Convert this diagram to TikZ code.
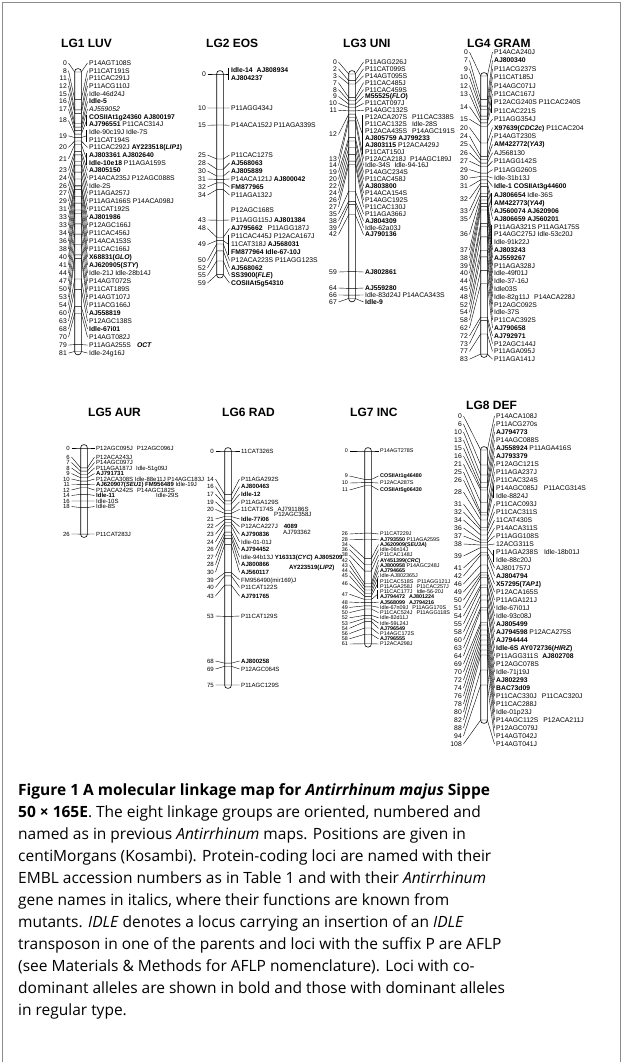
\documentclass[tikz,border=0pt]{standalone}
\usepackage{fontspec}
\setmainfont{Liberation Sans}
\newfontfamily\capfont{Open Sans}
\newcommand\Bf[1]{{\bfseries #1}}
\newcommand\Itl[1]{{\itshape #1}}
\tikzset{
 cn/.style={line width=0.4pt},
 barst/.style={draw, line width=0.6pt, fill=white},
 framest/.style={draw=black!45, line width=0.8pt},
 nm/.style={anchor=base east, inner sep=0pt, font=\fontsize{\gf}{\gf}\selectfont},
 lb/.style={anchor=base west, inner sep=0pt, font=\fontsize{\gf}{\gf}\selectfont},
 ttl/.style={anchor=west, inner sep=0pt, font=\fontsize{12}{12}\selectfont\bfseries},
 captxt/.style={anchor=base west, inner sep=0pt, font=\capfont\fontsize{15.5}{15.5}\selectfont},
}
\newcommand\grp[7]{\def\gy{#1}\def\gk{#2}\def\gnx{#3}\def\gbx{#4}\def\glx{#5}\def\gf{#6}\def\gw{#7}\pgfmathsetmacro\gb{0.36*#6}}
\newcommand\mbar[1]{\draw[barst, rounded corners=2.9pt] (\gbx-\gw,\gy-\gw) rectangle (\gbx+\gw,\gy+\gk*#1+\gw);}
\newcommand\mk[4]{%
 \pgfmathsetmacro\ty{\gy+\gk*(#1)}%
 \draw[cn] (\gnx+1.5,#2) -- (\gbx-\gw,\ty) -- (\gbx+\gw,\ty) -- (\glx-1.5,#2);%
 \node[nm] at (\gnx,#2+\gb) {#3};%
 \node[lb] at (\glx,#2+\gb) {#4};}
\newcommand\mb[4]{%
 \pgfmathsetmacro\ty{\gy+\gk*(#1)}%
 \pgfmathsetmacro\tm{(#2+#3)/2}%
 \draw[cn] (\gnx+1.5,\tm) -- (\gbx-\gw,\ty) -- (\gbx+\gw,\ty) -- (\glx-2.5,\tm);%
 \draw[cn] (\glx-2.5,#2-2) -- (\glx-2.5,#3+2);%
 \node[nm] at (\gnx,\tm+\gb) {#4};}
\newcommand\ml[2]{\node[lb] at (\glx,#1+\gb) {#2};}
\newcommand\mlx[3]{\node[lb] at (\glx+#1,#2+\gb) {#3};}
\begin{document}
\begin{tikzpicture}[x=1pt,y=-1pt]
\useasboundingbox (0,0) rectangle (622,1062);
\draw[framest] (2,2) rectangle (620,1090);
% ---------------- titles
\node[ttl] (t1) at (61,43) {LG1 LUV};
\node[ttl] (t2) at (206,43) {LG2 EOS};
\node[ttl] (t3) at (343,43) {LG3 UNI};
\node[ttl] (t4) at (467,43) {LG4 GRAM};
\node[ttl] (t5) at (88,412) {LG5 AUR};
\node[ttl] (t6) at (222,412) {LG6 RAD};
\node[ttl] (t7) at (350,412) {LG7 INC};
\node[ttl] (t8) at (466,405) {LG8 DEF};
% ---------------- LG1
\grp{72}{3.45}{67}{78}{89}{6.8}{3.3}
\mbar{81}
\mk{0}{63}{0}{P14AGT108S}
\mk{8}{70.7}{8}{P11CAT191S}
\mk{11}{78.3}{11}{P11CAC291J}
\mk{12}{86}{12}{P11ACG110J}
\mk{15}{93.7}{15}{Idle-46d24J}
\mk{16}{101.4}{16}{\Bf{Idle-5}}
\mk{17}{109}{17}{\Itl{AJ559052}}
\mb{18}{116.7}{124.4}{18}
\ml{116.7}{\Bf{COSIIAt1g24360 AJ800197}}
\ml{124.4}{\Bf{AJ796551} P11CAC314J}
\mb{19}{132}{139.7}{19}
\ml{132}{Idle-90c19J Idle-7S}
\ml{139.7}{P11CAT194S}
\mk{20}{147.4}{20}{P11CAC292J \Bf{AY223518(\Itl{LIP1})}}
\mb{21}{155}{162.7}{21}
\ml{155}{\Bf{AJ803361 AJ802640}}
\ml{162.7}{\Bf{Idle-10e18} P11AGA159S}
\mk{23}{170.4}{23}{\Bf{AJ805150}}
\mk{24}{178.1}{24}{P14ACA235J P12AGC088S}
\mk{26}{185.7}{26}{Idle-2S}
\mk{27}{193.4}{27}{P11AGA257J}
\mk{29}{201.1}{29}{P11AGA166S P14ACA098J}
\mk{31}{209.1}{31}{P11CAT192S}
\mk{33}{217.1}{33}{\Bf{AJ801986}}
\mk{33}{225.1}{33}{P12AGC166J}
\mk{34}{233.1}{34}{P11CAC456J}
\mk{36}{241.1}{36}{P14ACA153S}
\mk{38}{249.1}{38}{P11CAC166J}
\mk{40}{257.1}{40}{\Bf{X68831(\Itl{GLO})}}
\mk{41}{265.1}{41}{\Bf{AJ620905(\Itl{STY})}}
\mk{44}{273.1}{44}{Idle-21J Idle-28b14J}
\mk{47}{281.1}{47}{P14AGT072S}
\mk{50}{289.1}{50}{P11CAT189S}
\mk{53}{297.1}{53}{P14AGT107J}
\mk{54}{305.1}{54}{P11ACG166J}
\mk{60}{313.1}{60}{\Bf{AJ558819}}
\mk{63}{321.1}{63}{P12AGC138S}
\mk{68}{329.1}{68}{\Bf{Idle-67i01}}
\mk{70}{337.1}{70}{P14AGT082J}
\mk{79}{345.1}{79}{P11AGA255S\hspace{6pt}\Bf{\Itl{OCT}}}
\mk{81}{353.1}{81}{Idle-24g16J}
% ---------------- LG2
\grp{74}{3.4}{206}{220}{231}{6.8}{3.3}
\mbar{59}
\mb{0}{70}{78}{0}
\ml{70}{\Bf{Idle-14\hspace{4pt}AJ808934}}
\ml{78}{\Bf{AJ804237}}
\mk{10}{108}{10}{P11AGG434J}
\mk{15}{125.3}{15}{P14ACA152J P11AGA339S}
\mk{25}{155}{25}{P11CAC127S}
\mk{28}{163}{28}{\Bf{AJ568063}}
\mk{30}{171}{30}{\Bf{AJ805889}}
\mk{31}{179}{31}{P14ACA121J \Bf{AJ800042}}
\mk{32}{187}{32}{\Bf{FM877965}}
\mk{34}{195}{34}{P11AGA132J}
\ml{210}{P12AGC168S}
\mk{43}{220}{43}{P11AGG115J \Bf{AJ801384}}
\mk{48}{228.5}{48}{\Bf{AJ795662}\hspace{5pt}P11AGG187J}
\mb{49}{236.5}{252.5}{49}
\ml{236.5}{P11CAC445J P12ACA167J}
\ml{244.5}{11CAT318J \Bf{AJ568031}}
\ml{252.5}{\Bf{FM877964 Idle-67-10J}}
\mk{50}{260.5}{50}{P12ACA223S P11AGG123S}
\mk{52}{268}{52}{\Bf{AJ568062}}
\mk{55}{275.5}{55}{\Bf{SS3900(\Itl{FLE})}}
\mk{59}{283}{59}{\Bf{COSIIAt5g54310}}
% ---------------- LG3
\grp{74}{3.35}{337}{352}{365}{6.8}{3.3}
\mbar{67}
\mk{0}{62}{0}{P11AGG226J}
\mk{2}{68.9}{2}{P11CAT099S}
\mk{3}{75.8}{3}{P14AGT095S}
\mk{7}{82.7}{7}{P11CAC485J}
\mk{8}{89.6}{8}{P11CAC459S}
\mk{9}{96.5}{9}{\Bf{M55525(\Itl{FLO})}}
\mk{10}{103.4}{10}{P11CAT097J}
\mk{11}{110.3}{11}{P14AGC132S}
\mb{12}{117.2}{151.7}{12}
\ml{117.2}{P12ACA207S\hspace{5pt}P11CAC338S}
\ml{124.1}{P11CAC132S\hspace{5pt}Idle-28S}
\ml{131}{P12ACA435S\hspace{5pt}P14AGC191S}
\ml{137.9}{\Bf{AJ805759 AJ799233}}
\ml{144.8}{\Bf{AJ803115} P12ACA429J}
\ml{151.7}{P11CAT150J}
\mk{13}{158.6}{13}{P12ACA218J\hspace{4pt}P14AGC189J}
\mk{14}{165.5}{14}{Idle-34S\hspace{4pt}Idle-94-16J}
\mk{19}{172.4}{19}{P14AGC234S}
\mk{20}{179.3}{20}{P11CAC458J}
\mk{22}{186.2}{22}{\Bf{AJ803800}}
\mk{24}{193.1}{24}{P14ACA154S}
\mk{26}{200}{26}{P14AGC192S}
\mk{27}{206.9}{27}{P11CAC130J}
\mk{35}{213.8}{35}{P11AGA366J}
\mk{38}{220.7}{38}{\Bf{AJ804309}}
\mk{39}{227.6}{39}{Idle-62a03J}
\mk{42}{234.5}{42}{\Bf{AJ790136}}
\mk{59}{272}{59}{\Bf{AJ802861}}
\mk{64}{288}{64}{\Bf{AJ559280}}
\mk{66}{295}{66}{Idle-83d24J P14ACA343S}
\mk{67}{302}{67}{\Bf{Idle-9}}
% ---------------- LG4
\grp{76}{3.35}{468}{484}{494}{6.8}{3.3}
\mbar{83}
\mk{0}{52}{0}{P14ACA240J}
\mk{7}{60.4}{7}{\Bf{AJ800340}}
\mk{9}{68.8}{9}{P11ACG237S}
\mk{10}{77.2}{10}{P11CAT185J}
\mk{12}{85.6}{12}{P14AGC071J}
\mk{13}{94}{13}{P11CAC167J}
\mb{14}{102.4}{110.8}{14}
\ml{102.4}{P12ACG240S P11CAC240S}
\ml{110.8}{P11CAC221S}
\mk{15}{119.2}{15}{P11AGG354J}
\mk{20}{127.6}{20}{\Bf{X97639(\Itl{CDC2c})} P11CAC204}
\mk{24}{136}{24}{P14AGT230S}
\mk{25}{144.4}{25}{\Bf{AM422772(\Itl{YA3})}}
\mk{26}{152.8}{26}{AJ568130}
\mk{27}{161.2}{27}{P11AGG142S}
\mk{29}{169.6}{29}{P11AGG260S}
\mk{30}{178}{30}{Idle-31b13J}
\mk{31}{186.4}{31}{\Bf{Idle-1 COSIIAt3g44600}}
\mb{32}{194.8}{203.2}{32}
\ml{194.8}{\Bf{AJ806654} Idle-36S}
\ml{203.2}{\Bf{AM422773(\Itl{YA4})}}
\mk{33}{211}{33}{\Bf{AJ560074 AJ620906}}
\mk{35}{218.8}{35}{\Bf{AJ806659 AJ560201}}
\mb{36}{226.6}{242.2}{36}
\ml{226.6}{P11AGA321S P11AGA175S}
\ml{234.4}{P14AGC275J Idle-53c20J}
\ml{242.2}{Idle-91k22J}
\mk{37}{250}{37}{\Bf{AJ803243}}
\mk{38}{257.8}{38}{\Bf{AJ559267}}
\mk{39}{265.6}{39}{P11AGA328J}
\mk{40}{273.4}{40}{Idle-49f01J}
\mk{44}{281.2}{44}{Idle-37-16J}
\mk{45}{289}{45}{Idle03S}
\mk{48}{296.8}{48}{Idle-82g11J\hspace{5pt}P14ACA228J}
\mk{52}{304.6}{52}{P12AGC092S}
\mk{54}{312.4}{54}{Idle-37S}
\mk{58}{320.2}{58}{P11CAC392S}
\mk{62}{328}{62}{\Bf{AJ790658}}
\mk{72}{335.8}{72}{\Bf{AJ792971}}
\mk{73}{343.6}{73}{P12AGC144J}
\mk{77}{351.4}{77}{P11AGA095J}
\mk{83}{359.2}{83}{P11AGA141J}
% ---------------- LG5
\grp{448}{3.31}{70}{84}{96}{6}{3.3}
\mbar{26}
\mk{0}{448}{0}{P12AGC095J\hspace{4pt}P12AGC096J}
\mk{6}{457}{6}{P12ACA243J}
\mk{7}{462.5}{7}{P14AGC097J}
\mk{8}{468}{8}{P11AGA187J\hspace{4pt}Idle-51g09J}
\mk{9}{473.5}{9}{\Bf{AJ791731}}
\mk{10}{479}{10}{P12ACA308S Idle-88e11J P14AGC183J}
\mk{11}{484.5}{11}{\Bf{AJ620907(\Itl{SEU1}) FM956489} Idle-19J}
\mk{12}{490}{12}{P12ACA242S\hspace{4pt}P14AGC182S}
\mlx{60}{495.5}{Idle-29S}
\mk{14}{495.5}{14}{\Bf{Idle-11}}
\mk{16}{501}{16}{Idle-10S}
\mk{18}{506.5}{18}{Idle-8S}
\mk{26}{534}{26}{P11CAT283J}
% ---------------- LG6
\grp{451}{3.12}{214}{228}{241}{6.1}{3.3}
\mbar{75}
\mk{0}{451}{0}{11CAT326S}
\mk{14}{479}{14}{P11AGA292S}
\mk{16}{486.6}{16}{\Bf{AJ800463}}
\mk{17}{494.2}{17}{\Bf{Idle-12}}
\mk{19}{501.8}{19}{P11AGA129S}
\mk{20}{509.4}{20}{11CAT174S\hspace{4pt}AJ791186S}
\mlx{33}{514.5}{P12AGC358J}
\mk{21}{519}{21}{\Bf{Idle-77i06}}
\mk{22}{526.6}{22}{P12ACA227J\hspace{6pt}\Bf{4089}}
\mk{23}{534.2}{23}{\Bf{AJ790836}}
\mlx{42}{532}{AJ793362}
\mk{24}{541.8}{24}{Idle-01-01J}
\mk{26}{549.4}{26}{\Bf{AJ794452}}
\mk{27}{557}{27}{Idle-94b13J \Bf{Y16313(\Itl{CYC}) AJ805209}}
\mk{28}{564.6}{28}{\Bf{AJ800866}}
\mlx{48}{567}{\Bf{AY223519(\Itl{LIP2})}}
\mk{30}{572.2}{30}{\Bf{AJ560117}}
\mk{39}{579.8}{39}{FM956490(mir169)J}
\mk{40}{587.4}{40}{P11CAT122S}
\mk{43}{596}{43}{\Bf{AJ791765}}
\mk{53}{616}{53}{P11CAT129S}
\mk{68}{661}{68}{\Bf{AJ800258}}
\mk{69}{669}{69}{P12AGC064S}
\mk{75}{685}{75}{P11AGC129S}
% ---------------- LG7
\grp{451}{3.16}{348}{368}{380}{5.4}{3.3}
\mbar{61}
\mk{0}{451}{0}{P14AGT278S}
\mk{9}{476}{9}{\Bf{COSIIAt1g46480}}
\mk{10}{483}{10}{P12ACA287S}
\mk{11}{490}{11}{\Bf{COSIIAt5g06430}}
\mk{26}{534}{26}{P11CAT229J}
\mk{28}{539.2}{28}{\Bf{AJ793550} P11AGA259S}
\mk{34}{544.5}{34}{\Bf{AJ620909(\Itl{SEU3A})}}
\mk{36}{549.7}{36}{Idle-06n14J}
\mk{38}{555}{38}{P11CAC148J}
\mk{42}{560.2}{42}{\Bf{AY451399(\Itl{CRC})}}
\mk{43}{565.4}{43}{\Bf{AJ800958} P14AGC248J}
\mk{44}{570.7}{44}{\Bf{AJ794665}}
\mk{45}{575.9}{45}{Idle-AJ802365J}
\mb{46}{581.2}{586.4}{46}
\ml{581.2}{P11CAC518S\hspace{4pt}P11AGG121J}
\ml{586.4}{P11AGA258J\hspace{4pt}P11CAC257J}
\mb{47}{591.6}{596.9}{47}
\ml{591.6}{P11CAC177J\hspace{4pt}Idle-56-20J}
\ml{596.9}{\Bf{AJ794472\hspace{4pt}AJ801224}}
\mk{48}{602.1}{48}{\Bf{AJ568099\hspace{4pt}AJ794216}}
\mk{49}{607.4}{49}{Idle-67n09J\hspace{4pt}P11AGG170S}
\mk{50}{612.6}{50}{P11CAC524J\hspace{4pt}P11AGG118S}
\mk{52}{617.8}{52}{Idle-82d11J}
\mk{53}{623.1}{53}{Idle-59L24J}
\mk{54}{628.3}{54}{\Bf{AJ796549}}
\mk{56}{633.6}{56}{P14AGC172S}
\mk{58}{638.8}{58}{\Bf{AJ796555}}
\mk{61}{644}{61}{P12ACA298J}
% ---------------- LG8
\grp{450}{2.5}{462}{484}{496}{6.8}{3.3}
\mbar{108}
\mk{0}{416}{0}{P14ACA108J}
\mk{6}{424}{6}{P11ACG270s}
\mk{10}{432}{10}{\Bf{AJ794773}}
\mk{13}{440}{13}{P14AGC088S}
\mk{15}{448}{15}{\Bf{AJ558924} P11AGA416S}
\mk{16}{456}{16}{\Bf{AJ793379}}
\mk{21}{464}{21}{P12AGC121S}
\mk{25}{472}{25}{P11AGA237J}
\mk{26}{480}{26}{P11CAC324S}
\mb{28}{488}{496}{28}
\ml{488}{P14AGC085J\hspace{6pt}P11ACG314S}
\ml{496}{Idle-8824J}
\mk{31}{504}{31}{P11CAC093J}
\mk{32}{512}{32}{P11CAC311S}
\mk{34}{520}{34}{11CAT430S}
\mk{36}{528}{36}{P14ACA311S}
\mk{37}{536}{37}{P11AGG108S}
\mk{38}{544}{38}{12ACG311S}
\mb{39}{552}{560}{39}
\ml{552}{P11AGA238S\hspace{6pt}Idle-18b01J}
\ml{560}{Idle-88c20J}
\mk{41}{568}{41}{AJ801757J}
\mk{42}{576}{42}{\Bf{AJ804794}}
\mk{46}{584}{46}{\Bf{X57295(\Itl{TAP1})}}
\mk{49}{592}{49}{P12ACA165S}
\mk{50}{600}{50}{P11AGA121J}
\mk{51}{608}{51}{Idle-67i01J}
\mk{54}{616}{54}{Idle-93c08J}
\mk{55}{624}{55}{\Bf{AJ805499}}
\mk{58}{632}{58}{\Bf{AJ794598} P12ACA275S}
\mk{60}{640}{60}{\Bf{AJ794444}}
\mk{63}{648}{63}{\Bf{Idle-6S AY072736(\Itl{HIRZ})}}
\mk{64}{656}{64}{P11AGG311S\hspace{4pt}\Bf{AJ802708}}
\mk{69}{664}{69}{P12AGC078S}
\mk{70}{672}{70}{Idle-71j19J}
\mk{72}{680}{72}{\Bf{AJ802293}}
\mk{74}{688}{74}{\Bf{BAC73d09}}
\mk{76}{696}{76}{P11CAC330J\hspace{5pt}P11CAC320J}
\mk{78}{704}{78}{P11CAC288J}
\mk{80}{712}{80}{Idle-01p23J}
\mk{82}{720}{82}{P14AGC112S\hspace{5pt}P12ACA211J}
\mk{88}{728}{88}{P12AGC079J}
\mk{94}{736}{94}{P14AGT042J}
\mk{108}{744}{108}{P14AGT041J}
% ---------------- caption
\node[captxt] (c1) at (18,795) {\bfseries Figure 1 A molecular linkage map for \itshape Antirrhinum majus\/ \upshape Sippe};
\node[captxt] (c2) at (18,817) {\bfseries 50 × 165E\mdseries. The eight linkage groups are oriented, numbered and};
\node[captxt] (c3) at (18,839) {named as in previous \itshape Antirrhinum\/\upshape{} maps. Positions are given in};
\node[captxt] (c4) at (18,861) {centiMorgans (Kosambi). Protein-coding loci are named with their};
\node[captxt] (c5) at (18,883) {EMBL accession numbers as in Table 1 and with their \itshape Antirrhinum};
\node[captxt] (c6) at (18,905) {gene names in italics, where their functions are known from};
\node[captxt] (c7) at (18,927) {mutants. \itshape IDLE\/\upshape{} denotes a locus carrying an insertion of an \itshape IDLE};
\node[captxt] (c8) at (18,949) {transposon in one of the parents and loci with the suffix P are AFLP};
\node[captxt] (c9) at (18,971) {(see Materials \& Methods for AFLP nomenclature). Loci with co-};
\node[captxt] (c10) at (18,993) {dominant alleles are shown in bold and those with dominant alleles};
\node[captxt] (c11) at (18,1015) {in regular type.};
\end{tikzpicture}
\end{document}
